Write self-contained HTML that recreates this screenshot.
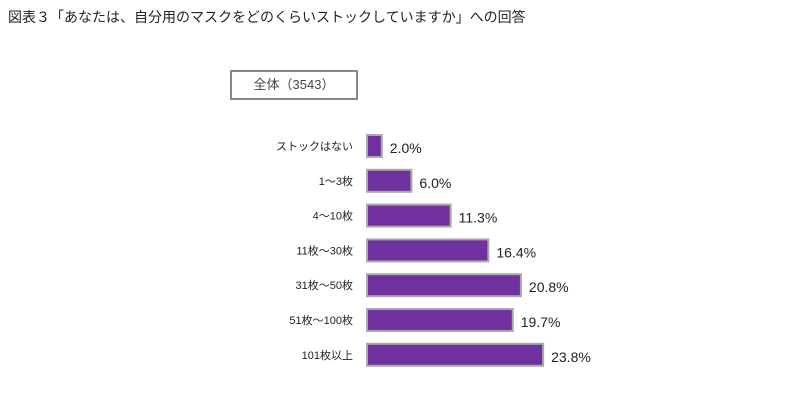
<!DOCTYPE html>
<html><head><meta charset="utf-8"><style>
body{margin:0;width:810px;height:418px;background:#fff;font-family:"Liberation Sans","Noto Sans CJK JP",sans-serif;position:relative;overflow:hidden}
.t{position:absolute;left:8px;top:7px;font-size:14px;color:#222}
.box{position:absolute;left:230px;top:70px;width:124px;height:26px;border:2px solid #888;box-sizing:content-box;font-size:13px;color:#444;text-align:center;line-height:26px}
</style></head><body>
<div class="t">図表３「あなたは、自分用のマスクをどのくらいストックしていますか」への回答</div>
<div class="box">全体（3543）</div>
<svg id="c" width="810" height="418" style="position:absolute;left:0;top:0"></svg>
<script>
const categories=["ストックはない","1～3枚","4～10枚","11枚～30枚","31枚～50枚","51枚～100枚","101枚以上"];
const values=[2.0,6.0,11.3,16.4,20.8,19.7,23.8];
const valueLabels=["2.0%","6.0%","11.3%","16.4%","20.8%","19.7%","23.8%"];
const svg=document.getElementById('c');
const NS="http://www.w3.org/2000/svg";
const x0=367,scale=7.4,y0=135,step=34.8,bh=22;
const xPos=v=>x0+v*scale;
const yPos=i=>y0+i*step;
categories.forEach((c,i)=>{
  const y=yPos(i);
  const r=document.createElementNS(NS,'rect');
  
  
  r.setAttribute('x',x0);r.setAttribute('y',y);
  r.setAttribute('width',xPos(values[i])-x0);r.setAttribute('height',bh);
  r.setAttribute('fill','#70309d');r.setAttribute('stroke','#aaa');r.setAttribute('stroke-width','2');
  svg.appendChild(r);
  const l=document.createElementNS(NS,'text');
  
  
  l.setAttribute('x',353);l.setAttribute('y',y+bh/2+4);
  l.setAttribute('text-anchor','end');l.setAttribute('font-size','11');l.setAttribute('fill','#222');
  l.textContent=c;svg.appendChild(l);
  const v=document.createElementNS(NS,'text');
  
  
  v.setAttribute('x',xPos(values[i])+8);v.setAttribute('y',y+bh/2+7);
  v.setAttribute('font-size','14');v.setAttribute('fill','#222');
  v.textContent=valueLabels[i];svg.appendChild(v);
});
</script>
</body></html>
